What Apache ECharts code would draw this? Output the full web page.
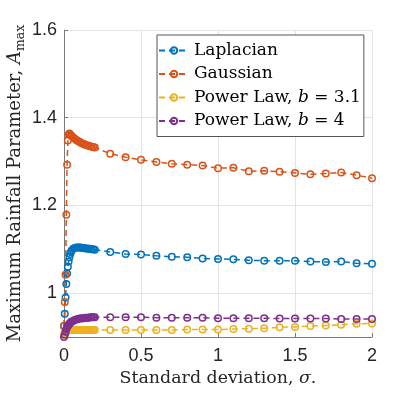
<!DOCTYPE html>
<html>
<head>
<meta charset="utf-8">
<script src="https://cdn.jsdelivr.net/npm/echarts@6/dist/echarts.min.js"></script>
<style>
  html, body { margin: 0; padding: 0; background: #fff; }
  #chart { width: 415px; height: 393px; }
</style>
</head>
<body>
<div id="chart"></div>
<script>
// standard deviation values (dense near zero, then every 0.1)
const sigma = [0, 0.005, 0.01, 0.015, 0.02, 0.025, 0.03, 0.035, 0.04, 0.045, 0.05,
  0.06, 0.07, 0.08, 0.09, 0.1, 0.11, 0.12, 0.13, 0.14, 0.15, 0.16, 0.17, 0.18, 0.19, 0.2,
  0.3, 0.4, 0.5, 0.6, 0.7, 0.8, 0.9, 1.0, 1.1, 1.2, 1.3, 1.4, 1.5, 1.6, 1.7, 1.8, 1.9, 2.0]

const laplacian = [0.925, 0.953, 0.99, 1.021, 1.045, 1.06, 1.072, 1.082, 1.089, 1.094, 1.097,
  1.101, 1.103, 1.104, 1.104, 1.104, 1.104, 1.103, 1.103, 1.102, 1.102, 1.101, 1.101, 1.100, 1.100, 1.099,
  1.094, 1.089, 1.088, 1.085, 1.083, 1.082, 1.079, 1.078, 1.077, 1.075, 1.074, 1.074, 1.074, 1.072, 1.071, 1.072, 1.068, 1.067]

const gaussian = [0.925, 0.98, 1.042, 1.179, 1.293, 1.348, 1.362, 1.364, 1.362, 1.36, 1.358,
  1.355, 1.352, 1.349, 1.347, 1.345, 1.343, 1.341, 1.34, 1.338, 1.337, 1.336, 1.335, 1.334, 1.333, 1.332,
  1.318, 1.310, 1.304, 1.299, 1.295, 1.293, 1.291, 1.285, 1.286, 1.278, 1.279, 1.277, 1.274, 1.271, 1.273, 1.275, 1.269, 1.262]

const powerLaw31 = [0.905, 0.908, 0.911, 0.913, 0.914, 0.915, 0.915, 0.916, 0.916, 0.916, 0.916,
  0.916, 0.916, 0.916, 0.916, 0.916, 0.916, 0.916, 0.916, 0.916, 0.916, 0.916, 0.916, 0.916, 0.916, 0.916,
  0.916, 0.916, 0.916, 0.916, 0.916, 0.917, 0.917, 0.917, 0.918, 0.919, 0.920, 0.922, 0.923, 0.925, 0.926, 0.928, 0.930, 0.931]

const powerLaw4 = [0.900, 0.905, 0.912, 0.918, 0.922, 0.925, 0.928, 0.930, 0.932, 0.934, 0.935,
  0.937, 0.939, 0.940, 0.941, 0.942, 0.942, 0.943, 0.943, 0.944, 0.944, 0.944, 0.945, 0.945, 0.945, 0.945,
  0.945, 0.945, 0.945, 0.944, 0.944, 0.944, 0.944, 0.943, 0.943, 0.943, 0.943, 0.942, 0.942, 0.942, 0.942, 0.941, 0.941, 0.941]

const yTicks = [1, 1.2, 1.4, 1.6]

const serif = 'DejaVu Serif'
const sans = 'Liberation Sans'

const legendRich = {
  n: { fontFamily: serif, fontSize: 17, color: '#000' },
  i: { fontFamily: serif, fontSize: 17, fontStyle: 'italic', color: '#000' }
}
const legendText = {
  'Laplacian': '{n|Laplacian}',
  'Gaussian': '{n|Gaussian}',
  'Power Law, b = 3.1': '{n|Power Law, }{i|b}{n| = 3.1}',
  'Power Law, b = 4': '{n|Power Law, }{i|b}{n| = 4}'
}

function makeSeries(name, values, color) {
  return {
    name,
    type: 'line',
    data: sigma.map((s, k) => [s, values[k]]),
    symbol: 'circle',
    symbolSize: 6.5,
    itemStyle: { color: 'rgba(255,255,255,0)', borderColor: color, borderWidth: 1.5 },
    lineStyle: { color, width: 1.5, type: [6, 4] },
    emphasis: { disabled: true },
    animation: false
  }
}

const chart = echarts.init(document.getElementById('chart'))
chart.setOption({
  backgroundColor: '#fff',
  animation: false,
  grid: { left: 64, right: 43, top: 30, bottom: 56, outerBoundsMode: 'none' },
  legend: {
    orient: 'vertical',
    left: 157,
    top: 35,
    padding: [7, 3, 7, 1],
    itemGap: 6.5,
    itemWidth: 30,
    itemHeight: 8,
    itemTextGap: 5,
    backgroundColor: '#fff',
    borderColor: '#555',
    borderWidth: 1,
    borderRadius: 0,
    formatter: name => legendText[name],
    textStyle: { rich: legendRich }
  },
  xAxis: {
    type: 'value',
    min: 0,
    max: 2,
    interval: 0.5,
    name: '{n|Standard deviation, }{i|σ}{n|.}',
    nameLocation: 'middle',
    nameGap: 33,
    nameMoveOverlap: false,
    nameTextStyle: {
      rich: {
        n: { fontFamily: serif, fontSize: 17.4, color: '#262626' },
        i: { fontFamily: serif, fontSize: 17.4, fontStyle: 'italic', color: '#262626' }
      }
    },
    axisLine: { show: true, lineStyle: { color: '#7a7a7a', width: 1 } },
    axisTick: { show: true, inside: true, length: 4, lineStyle: { color: '#7a7a7a' } },
    axisLabel: { fontFamily: sans, fontSize: 18, color: '#262626', margin: 10 },
    splitLine: { show: true, lineStyle: { color: '#e3e3e3', width: 1 } }
  },
  yAxis: {
    type: 'value',
    min: 0.9,
    max: 1.6,
    name: '{n|Maximum Rainfall Parameter, }{i|A}{s|max}',
    nameLocation: 'middle',
    nameRotate: 90,
    nameGap: 37,
    nameMoveOverlap: false,
    nameTextStyle: {
      rich: {
        n: { fontFamily: serif, fontSize: 18, color: '#262626', lineHeight: 24 },
        i: { fontFamily: serif, fontSize: 18, fontStyle: 'italic', color: '#262626', lineHeight: 24 },
        s: { fontFamily: serif, fontSize: 12.5, color: '#262626', verticalAlign: 'bottom', lineHeight: 13 }
      }
    },
    axisLine: { show: true, lineStyle: { color: '#7a7a7a', width: 1 } },
    axisTick: { show: true, inside: true, length: 4, customValues: yTicks, lineStyle: { color: '#7a7a7a' } },
    axisLabel: { fontFamily: sans, fontSize: 18, color: '#262626', margin: 7, customValues: yTicks },
    splitLine: { show: true, lineStyle: { color: '#e3e3e3', width: 1 } }
  },
  series: [
    makeSeries('Laplacian', laplacian, '#0072BD'),
    makeSeries('Gaussian', gaussian, '#D95319'),
    makeSeries('Power Law, b = 3.1', powerLaw31, '#EDB120'),
    makeSeries('Power Law, b = 4', powerLaw4, '#7E2F8E')
  ]
})
</script>
</body>
</html>
